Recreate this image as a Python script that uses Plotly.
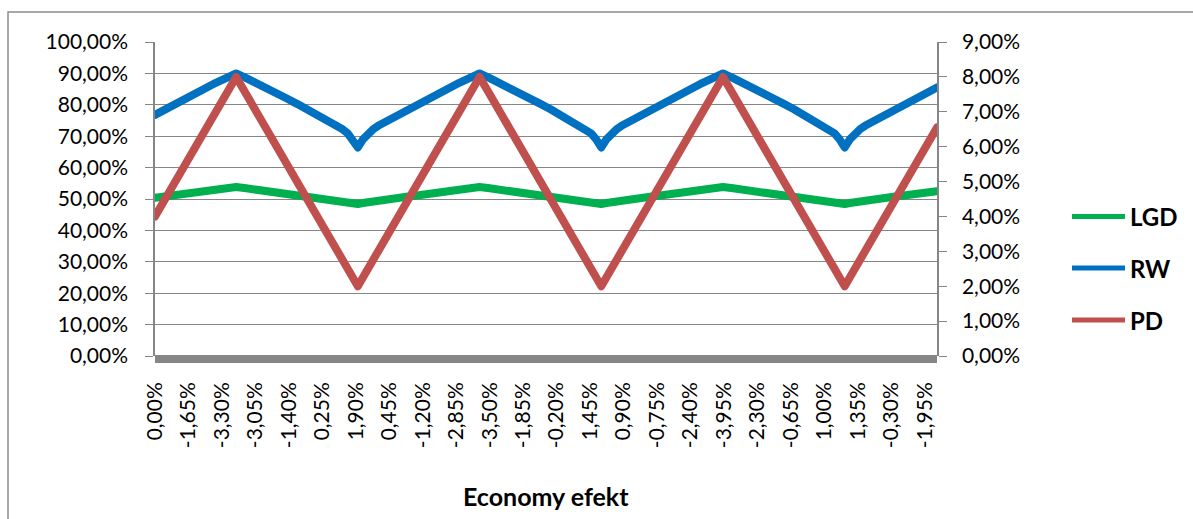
import plotly.graph_objects as go

# Observation number of each sampled point along the horizontal axis
obs = [0, 10, 20, 30, 40, 50, 60, 70, 80,
       90, 100, 110, 120, 130, 140, 150, 160, 170, 180, 185, 190, 195, 200,
       205, 210, 215, 220, 230, 240, 250, 260, 270, 280, 290, 300, 310, 320,
       330, 340, 350, 360, 370, 380, 390, 400, 410, 420, 425, 430, 435, 440,
       445, 450, 455, 460, 470, 480, 490, 500, 510, 520, 530, 540, 550, 560,
       570, 580, 590, 600, 610, 620, 630, 640, 650, 660, 665, 670, 675, 680,
       685, 690, 695, 700, 710, 720, 730, 740, 750, 760, 770, 771]

# LGD (%), left axis
lgd = [50.4, 50.8, 51.2, 51.6, 52.0, 52.5, 52.9, 53.4, 53.8,
       53.4, 52.9, 52.5, 52.0, 51.6, 51.2, 50.8, 50.4, 49.9, 49.5, 49.2, 49.0, 48.7, 48.4,
       48.7, 49.0, 49.2, 49.5, 49.9, 50.4, 50.8, 51.2, 51.6, 52.0, 52.5, 52.9, 53.4, 53.8,
       53.4, 52.9, 52.5, 52.0, 51.6, 51.2, 50.8, 50.4, 49.9, 49.5, 49.2, 49.0, 48.7, 48.4,
       48.7, 49.0, 49.2, 49.5, 49.9, 50.4, 50.8, 51.2, 51.6, 52.0, 52.5, 52.9, 53.4, 53.8,
       53.4, 52.9, 52.5, 52.0, 51.6, 51.2, 50.8, 50.4, 49.9, 49.5, 49.2, 49.0, 48.7, 48.4,
       48.7, 49.0, 49.2, 49.5, 49.9, 50.4, 50.8, 51.2, 51.6, 52.0, 52.5, 52.5]

# RW (%), left axis
rw = [76.8, 78.6, 80.3, 82.0, 83.6, 85.3, 87.0, 88.5, 90.0,
      88.5, 87.0, 85.3, 83.6, 82.0, 80.3, 78.6, 76.8, 75.1, 73.3, 72.2, 70.9, 69.0, 66.4,
      69.0, 70.9, 72.2, 73.3, 75.1, 76.8, 78.6, 80.3, 82.0, 83.6, 85.3, 87.0, 88.5, 90.0,
      88.5, 87.0, 85.3, 83.6, 82.0, 80.3, 78.6, 76.8, 75.1, 73.3, 72.2, 70.9, 69.0, 66.4,
      69.0, 70.9, 72.2, 73.3, 75.1, 76.8, 78.6, 80.3, 82.0, 83.6, 85.3, 87.0, 88.5, 90.0,
      88.5, 87.0, 85.3, 83.6, 82.0, 80.3, 78.6, 76.8, 75.1, 73.3, 72.2, 70.9, 69.0, 66.4,
      69.0, 70.9, 72.2, 73.3, 75.1, 76.8, 78.6, 80.3, 82.0, 83.6, 85.3, 85.5]

# PD (%), right axis
pd_vals = [4.0, 4.5, 5.0, 5.5, 6.0, 6.5, 7.0, 7.5, 8.0,
           7.5, 7.0, 6.5, 6.0, 5.5, 5.0, 4.5, 4.0, 3.5, 3.0, 2.75, 2.5, 2.25, 2.0,
           2.25, 2.5, 2.75, 3.0, 3.5, 4.0, 4.5, 5.0, 5.5, 6.0, 6.5, 7.0, 7.5, 8.0,
           7.5, 7.0, 6.5, 6.0, 5.5, 5.0, 4.5, 4.0, 3.5, 3.0, 2.75, 2.5, 2.25, 2.0,
           2.25, 2.5, 2.75, 3.0, 3.5, 4.0, 4.5, 5.0, 5.5, 6.0, 6.5, 7.0, 7.5, 8.0,
           7.5, 7.0, 6.5, 6.0, 5.5, 5.0, 4.5, 4.0, 3.5, 3.0, 2.75, 2.5, 2.25, 2.0,
           2.25, 2.5, 2.75, 3.0, 3.5, 4.0, 4.5, 5.0, 5.5, 6.0, 6.5, 6.55]

# Category labels (economy effect), one every 33 observations
x_labels = ["0,00%", "-1,65%", "-3,30%", "-3,05%", "-1,40%", "0,25%", "1,90%",
            "0,45%", "-1,20%", "-2,85%", "-3,50%", "-1,85%", "-0,20%", "1,45%",
            "0,90%", "-0,75%", "-2,40%", "-3,95%", "-2,30%", "-0,65%", "1,00%",
            "1,35%", "-0,30%", "-1,95%"]
label_step = 33
label_pos = [i * label_step for i in range(len(x_labels))]

series = [("LGD", lgd, "y", "#00B050"),
          ("RW", rw, "y", "#0070C0"),
          ("PD", pd_vals, "y2", "#C0504D")]

W, H = 1193, 519
L, R, T, B = 155, 256, 42, 163
PW, PH = W - L - R, H - T - B
GRID = "#868686"
FONT = "Lato"


def px(x):
    return (x - L) / PW


def py(y):
    return (H - B - y) / PH


fig = go.Figure()
for name, vals, axis, color in series:
    fig.add_trace(go.Scatter(x=obs, y=vals, yaxis=axis, name=name, mode="lines",
                             line=dict(color=color, width=8),
                             showlegend=False))

shapes = [
    # thick horizontal axis band
    dict(type="rect", xref="paper", yref="paper", x0=0, x1=1,
         y0=py(363), y1=py(355), fillcolor=GRID, line=dict(width=0), layer="above"),
    # chart frame
    dict(type="rect", xref="paper", yref="paper", x0=px(8), x1=px(1230),
         y0=py(560), y1=py(12), line=dict(color="#8C8C8C", width=1.5),
         fillcolor="rgba(0,0,0,0)", layer="above"),
]
annotations = [
    dict(text="<b>Economy efekt</b>", xref="paper", yref="paper", x=0.5, y=py(496),
         showarrow=False, font=dict(family=FONT, size=25, color="black"),
         xanchor="center", yanchor="middle"),
]

# legend keys
leg_y = [216.5, 268, 320]
for (name, vals, axis, color), yy in zip(series, leg_y):
    shapes.append(dict(type="line", xref="paper", yref="paper",
                       x0=px(1072), x1=px(1125), y0=py(yy), y1=py(yy),
                       line=dict(color=color, width=5)))
    annotations.append(dict(text="<b>%s</b>" % name, xref="paper", yref="paper",
                            x=px(1128), y=py(yy), showarrow=False,
                            xanchor="left", yanchor="middle",
                            font=dict(family=FONT, size=24, color="black")))

tick_font = dict(family=FONT, size=21, color="black")

fig.update_layout(
    width=W, height=H,
    margin=dict(l=L, r=R, t=T, b=B, pad=0),
    paper_bgcolor="white", plot_bgcolor="white",
    separators=",.",
    showlegend=False,
    font=dict(family=FONT),
    xaxis=dict(range=[0, 771], tickmode="array", tickvals=label_pos, ticktext=x_labels,
               tickangle=-90, ticks="", showgrid=False, zeroline=False, showline=False,
               tickfont=tick_font, ticklabelstandoff=21),
    yaxis=dict(range=[0, 100], dtick=10, tick0=0, tickformat=".2f", ticksuffix="%",
               showgrid=True, gridcolor=GRID, gridwidth=1.3, zeroline=False,
               showline=True, linecolor=GRID, linewidth=1.5,
               ticks="outside", ticklen=8, tickcolor=GRID, tickwidth=1.3,
               tickfont=tick_font, ticklabelstandoff=13),
    yaxis2=dict(range=[0, 9], dtick=1, tick0=0, tickformat=".2f", ticksuffix="%",
                overlaying="y", side="right", showgrid=False, zeroline=False,
                showline=True, linecolor=GRID, linewidth=1.5,
                ticks="outside", ticklen=8, tickcolor=GRID, tickwidth=1.3,
                tickfont=tick_font, ticklabelstandoff=11),
    shapes=shapes,
    annotations=annotations,
)

# round line joins for the series strokes
round_joins = """
var gd = document.getElementById('{plot_id}');
gd.querySelectorAll('.scatterlayer .js-line').forEach(function (p) {
    p.style.strokeLinejoin = 'round';
    p.style.strokeLinecap = 'round';
});
"""

fig.write_html("out.html", post_script=round_joins)
